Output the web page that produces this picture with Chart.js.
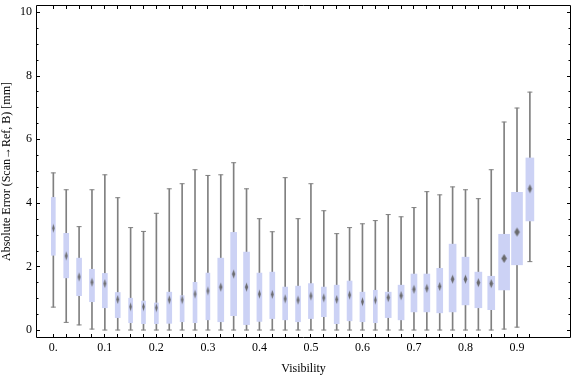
<!DOCTYPE html>
<html>
<head>
<meta charset="utf-8">
<script src="https://cdn.jsdelivr.net/npm/chart.js@4"></script>
<style>
  html, body { margin: 0; padding: 0; background: #fff; }
</style>
</head>
<body>
<canvas id="chart" width="576" height="377"></canvas>
<script>
// box-whisker chart: error vs visibility

// visibility bins (x position of each box)
const visibility = [0, 0.025, 0.05, 0.075, 0.1, 0.125, 0.15, 0.175, 0.2, 0.225,
  0.25, 0.275, 0.3, 0.325, 0.35, 0.375, 0.4, 0.425, 0.45, 0.475,
  0.5, 0.525, 0.55, 0.575, 0.6, 0.625, 0.65, 0.675, 0.7, 0.725,
  0.75, 0.775, 0.8, 0.825, 0.85, 0.875, 0.9, 0.925];
// lower whisker
const errMin = [0.72, 0.24, 0.16, 0.03, 0, 0, 0, 0, 0, 0,
  0, 0, 0, 0, 0, 0, 0, 0, 0, 0,
  0, 0, 0, 0, 0, 0, 0, 0, 0, 0,
  0, 0, 0, 0, 0, 0.03, 0.09, 2.15];
// first quartile
const errQ1 = [2.35, 1.64, 1.08, 0.89, 0.70, 0.39, 0.23, 0.20, 0.20, 0.21,
  0.26, 0.23, 0.32, 0.26, 0.45, 0.17, 0.27, 0.36, 0.32, 0.26,
  0.36, 0.42, 0.20, 0.29, 0.26, 0.23, 0.39, 0.32, 0.57, 0.57,
  0.54, 0.57, 0.79, 0.70, 0.64, 1.26, 2.05, 3.43];
// median
const errMedian = [3.20, 2.33, 1.67, 1.50, 1.46, 0.96, 0.73, 0.73, 0.70, 0.95,
  0.95, 1.13, 1.23, 1.35, 1.76, 1.35, 1.13, 1.12, 0.98, 0.94,
  1.07, 1.01, 0.96, 1.10, 0.89, 0.94, 1.02, 1.08, 1.28, 1.31,
  1.37, 1.60, 1.60, 1.49, 1.46, 2.25, 3.08, 4.44];
// third quartile
const errQ3 = [4.17, 3.04, 2.26, 1.91, 1.78, 1.18, 1.00, 0.91, 0.85, 1.19,
  1.08, 1.50, 1.79, 2.26, 3.07, 2.45, 1.79, 1.82, 1.35, 1.38,
  1.46, 1.35, 1.41, 1.54, 1.19, 1.25, 1.19, 1.41, 1.76, 1.76,
  1.94, 2.70, 2.29, 1.82, 1.69, 3.01, 4.33, 5.41];
// upper whisker
const errMax = [4.94, 4.41, 3.25, 4.41, 4.88, 4.16, 3.22, 3.10, 3.67, 4.44,
  4.60, 5.04, 4.86, 4.88, 5.26, 4.44, 3.50, 3.09, 4.79, 3.50,
  4.60, 3.75, 3.03, 3.22, 3.34, 3.44, 3.63, 3.56, 3.85, 4.35,
  4.25, 4.50, 4.41, 4.13, 5.04, 6.54, 6.98, 7.48];

// tick labels
const xTickValues = [0, 0.1, 0.2, 0.3, 0.4, 0.5, 0.6, 0.7, 0.8, 0.9];
const xTickLabels = ['0.', '0.1', '0.2', '0.3', '0.4', '0.5', '0.6', '0.7', '0.8', '0.9'];
const yTickValues = [0, 2, 4, 6, 8, 10];

// styles
const boxColor = 'rgb(204, 210, 245)';
const whiskerColor = '#808080';
const serif = "'Liberation Serif', 'Times New Roman', serif";
// box widths in px (they differ a little in the original)
const boxPx = [4, 5, 5, 5, 5, 5, 4, 4, 4, 5, 4, 4, 4, 6, 6, 6, 5, 5, 5, 5,
  5, 5, 5, 5, 5, 4, 6, 6, 6, 6, 6, 7, 7, 7, 7, 11, 11, 8];

// median marker: small gray diamond
function diamond(w) {
  const c = document.createElement('canvas');
  const cw = 2 * Math.ceil(w / 2) + 1;
  const ch = 11;
  c.width = cw;
  c.height = ch;
  const g = c.getContext('2d');
  g.fillStyle = 'rgba(100, 100, 100, 0.95)';
  g.beginPath();
  g.moveTo(cw / 2, 1);
  g.lineTo(cw / 2 + w / 2, ch / 2);
  g.lineTo(cw / 2, ch - 1);
  g.lineTo(cw / 2 - w / 2, ch / 2);
  g.closePath();
  g.fill();
  return c;
}
const medianMarks = boxPx.map((w) => diamond(Math.max(2.5, w * 0.45 + 0.5)));

// frame + inward ticks, like the original
const framePlugin = {
  id: 'frame',
  afterDatasetsDraw(chart) {
    const { ctx, chartArea: a, scales: { x, y } } = chart;
    ctx.save();
    ctx.strokeStyle = '#000';
    ctx.lineWidth = 1;
    ctx.beginPath();
    ctx.rect(a.left + 0.5, a.top + 0.5, a.right - a.left - 1, a.bottom - a.top - 1);
    for (let v = 0; v <= 10; v += 0.5) {
      const py = Math.round(y.getPixelForValue(v)) + 0.5;
      const len = v % 2 === 0 ? 4 : 2.5;
      ctx.moveTo(a.left, py);
      ctx.lineTo(a.left + len, py);
      ctx.moveTo(a.right, py);
      ctx.lineTo(a.right - len, py);
    }
    visibility.forEach((v) => {
      const px = Math.floor(x.getPixelForValue(v)) + 0.5;
      ctx.moveTo(px, a.bottom);
      ctx.lineTo(px, a.bottom - 4);
      ctx.moveTo(px, a.top);
      ctx.lineTo(px, a.top + 4);
    });
    ctx.stroke();
    ctx.restore();
  },
};

const boxDatasets = visibility.map((v, i) => ({
  type: 'bar',
  data: [{ x: v, y: [errQ1[i], errQ3[i]] }],
  backgroundColor: boxColor,
  borderWidth: 0,
  barThickness: boxPx[i],
  grouped: false,
  order: 2,
}));

const chart = new Chart(document.querySelector('#chart'), {
  type: 'bar',
  data: {
    datasets: [
      {
        type: 'scatter',
        data: visibility.map((v, i) => ({ x: v, y: errMedian[i] })),
        pointStyle: (ctx) => medianMarks[ctx.dataIndex],
        pointRadius: 3,
        order: 0,
      },
      {
        type: 'scatter',
        data: visibility
          .map((v, i) => ({ x: v, y: errMin[i] }))
          .concat(visibility.map((v, i) => ({ x: v, y: errMax[i] }))),
        pointStyle: 'line',
        pointRadius: 2.5,
        borderColor: whiskerColor,
        borderWidth: 1,
        order: 1,
      },
      ...boxDatasets,
      {
        type: 'bar',
        data: visibility.map((v, i) => ({ x: v, y: [errMin[i], errMax[i]] })),
        backgroundColor: whiskerColor,
        borderWidth: 0,
        barThickness: 1,
        grouped: false,
        order: 3,
      },
    ],
  },
  options: {
    responsive: false,
    animation: false,
    layout: { padding: { top: 4, right: 0, left: 0, bottom: 0 } },
    plugins: {
      legend: { display: false },
      tooltip: { enabled: false },
    },
    scales: {
      x: {
        type: 'linear',
        min: -0.03365,
        max: 1.00481,
        offset: false,
        grid: { display: false, drawTicks: false },
        border: { display: false },
        afterFit: (scale) => {
          scale.height = 39;
          scale.paddingLeft = 0;
          scale.paddingRight = 0;
        },
        afterBuildTicks: (scale) => {
          scale.ticks = xTickValues.map((v) => ({ value: v }));
        },
        ticks: {
          autoSkip: false,
          maxRotation: 0,
          padding: 3,
          color: '#000',
          font: { family: serif, size: 12 },
          callback: (value, index) => xTickLabels[index],
        },
        title: {
          display: true,
          text: 'Visibility',
          color: '#000',
          font: { family: serif, size: 12 },
          padding: { top: 0, bottom: 1 },
        },
      },
      y: {
        min: -0.251,
        max: 10.219,
        grid: { display: false, drawTicks: false },
        border: { display: false },
        afterFit: (scale) => {
          scale.width = 36;
          scale.paddingTop = 0;
          scale.paddingBottom = 0;
        },
        afterBuildTicks: (scale) => {
          scale.ticks = yTickValues.map((v) => ({ value: v }));
        },
        ticks: {
          padding: 4,
          color: '#000',
          font: { family: serif, size: 12 },
        },
        title: {
          display: true,
          text: 'Absolute Error (Scan\u2192Ref, B) [mm]',
          color: '#000',
          font: { family: serif, size: 12 },
          padding: { top: 0, bottom: 0 },
        },
      },
    },
  },
  plugins: [framePlugin],
});
</script>
</body>
</html>
